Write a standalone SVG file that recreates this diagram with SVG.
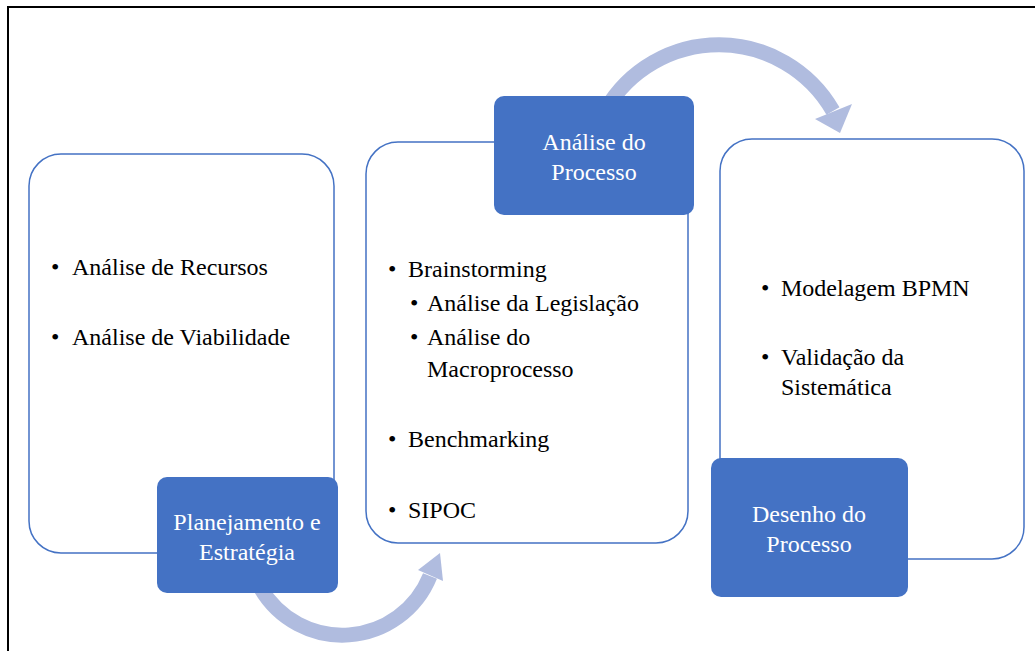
<svg xmlns="http://www.w3.org/2000/svg" width="1035" height="651" viewBox="0 0 1035 651">
  <style>
    text { font-family: 'Liberation Serif', 'Times New Roman', serif !important; font-size: 24px; }
    .frame { fill: none; stroke: #000; stroke-width: 2; }
    .panel { fill: #fff; stroke: #4472C4; stroke-width: 1.5; }
    .title { fill: #4472C4; }
    .title-text { fill: #fff; text-anchor: middle; }
    .item { fill: #000; }
    .arc { fill: none; stroke: #B0BCDF; stroke-width: 15; }
    .head { fill: #B0BCDF; }
  </style>

  <!-- page frame -->
  <path class="frame" d="M 8 651 L 8 7 L 1035 7"/>

  <!-- curved arrows between stages (drawn first so the title boxes cover their tails) -->
  <g id="connectors">
    <path class="arc" d="M 260.6 588 A 94.5 94.5 0 0 0 430 576"/>
    <polygon class="head" points="418,570 440,553 443,581"/>
    <path class="arc" d="M 605.3 110.5 A 131.3 131.3 0 0 1 833 111"/>
    <polygon class="head" points="815,119 852,104 840,133"/>
  </g>

  <!-- stage 1 -->
  <g id="stage-planejamento">
    <rect class="panel" x="29" y="154" width="305" height="399" rx="32"/>
    <text class="item" x="51" y="275" style="font-family: 'Liberation Serif' !important">•</text>
    <text class="item" x="72" y="275" style="font-family: 'Liberation Serif' !important">Análise de Recursos</text>
    <text class="item" x="51" y="345" style="font-family: 'Liberation Serif' !important">•</text>
    <text class="item" x="72" y="345" style="font-family: 'Liberation Serif' !important">Análise de Viabilidade</text>
    <rect class="title" x="157" y="477" width="181" height="116" rx="10"/>
    <text class="title-text" x="247" y="530" style="font-family: 'Liberation Serif' !important">Planejamento e</text>
    <text class="title-text" x="247" y="560" style="font-family: 'Liberation Serif' !important">Estratégia</text>
  </g>

  <!-- stage 2 -->
  <g id="stage-analise">
    <rect class="panel" x="366" y="142" width="322" height="401" rx="32"/>
    <text class="item" x="388" y="277" style="font-family: 'Liberation Serif' !important">•</text>
    <text class="item" x="408" y="277" style="font-family: 'Liberation Serif' !important">Brainstorming</text>
    <text class="item" x="410" y="311" style="font-family: 'Liberation Serif' !important">•</text>
    <text class="item" x="427" y="311" style="font-family: 'Liberation Serif' !important">Análise da Legislação</text>
    <text class="item" x="410" y="345" style="font-family: 'Liberation Serif' !important">•</text>
    <text class="item" x="427" y="345" style="font-family: 'Liberation Serif' !important">Análise do</text>
    <text class="item" x="427" y="377" style="font-family: 'Liberation Serif' !important">Macroprocesso</text>
    <text class="item" x="388" y="447" style="font-family: 'Liberation Serif' !important">•</text>
    <text class="item" x="408" y="447" style="font-family: 'Liberation Serif' !important">Benchmarking</text>
    <text class="item" x="388" y="518" style="font-family: 'Liberation Serif' !important">•</text>
    <text class="item" x="408" y="518" style="font-family: 'Liberation Serif' !important">SIPOC</text>
    <rect class="title" x="494" y="96" width="200" height="119" rx="10"/>
    <text class="title-text" x="594" y="150" style="font-family: 'Liberation Serif' !important">Análise do</text>
    <text class="title-text" x="594" y="180" style="font-family: 'Liberation Serif' !important">Processo</text>
  </g>

  <!-- stage 3 -->
  <g id="stage-desenho">
    <rect class="panel" x="720" y="139" width="304" height="420" rx="32"/>
    <text class="item" x="761" y="296" style="font-family: 'Liberation Serif' !important">•</text>
    <text class="item" x="781" y="296" style="font-family: 'Liberation Serif' !important">Modelagem BPMN</text>
    <text class="item" x="761" y="365" style="font-family: 'Liberation Serif' !important">•</text>
    <text class="item" x="781" y="365" style="font-family: 'Liberation Serif' !important">Validação da</text>
    <text class="item" x="781" y="395" style="font-family: 'Liberation Serif' !important">Sistemática</text>
    <rect class="title" x="711" y="458" width="197" height="139" rx="10"/>
    <text class="title-text" x="809" y="522" style="font-family: 'Liberation Serif' !important">Desenho do</text>
    <text class="title-text" x="809" y="552" style="font-family: 'Liberation Serif' !important">Processo</text>
  </g>
</svg>
